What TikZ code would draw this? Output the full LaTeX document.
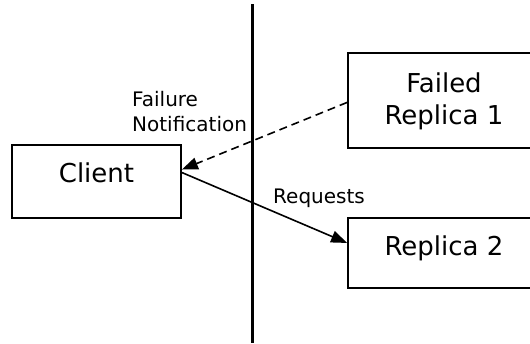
\documentclass[tikz,border=0pt]{standalone}
\usepackage{fontspec}
\setmainfont{DejaVu Sans}
\usetikzlibrary{arrows.meta,calc}

\tikzset{
  box/.style={draw, line width=1.8pt, rectangle, inner sep=0pt},
  boxtext/.style={anchor=base, font=\fontsize{26}{32}\selectfont},
  labeltext/.style={anchor=base west, font=\fontsize{20}{25}\selectfont, inner sep=0pt},
  msg/.style={line width=1.6pt, -{Triangle[length=16pt,width=12pt]}},
  divider/.style={line width=2.2pt}
}

\begin{document}
\begin{tikzpicture}[x=1pt,y=-1pt]
  \useasboundingbox (0,0) rectangle (530,343);
  \clip (0,0) rectangle (530,343);

  % dividing line
  \coordinate (divtop) at (252.5,4);
  \coordinate (divbot) at (252.5,343);
  \draw[divider] (divtop) -- (divbot);

  % boxes
  \node[box, minimum width=169pt, minimum height=73pt] (client) at (96.5,181.5) {};
  \node[box, minimum width=192pt, minimum height=95pt] (rep1) at (444,100.5) {};
  \node[box, minimum width=192pt, minimum height=70pt] (rep2) at (444,253) {};

  % box texts
  \node[boxtext] (clientlbl) at (96.5,182) {Client};
  \node[boxtext] (rep1a) at (444,92) {Failed};
  \node[boxtext] (rep1b) at (444,124) {Replica 1};
  \node[boxtext] (rep2lbl) at (444,255.5) {Replica 2};

  % attachment points
  \coordinate (cin)  at ($(client.north east)!0.34!(client.south east)$);
  \coordinate (cout) at ($(client.north east)!0.38!(client.south east)$);
  \coordinate (r1out) at ($(rep1.north west)!0.52!(rep1.south west)$);
  \coordinate (r2in)  at ($(rep2.north west)!0.36!(rep2.south west)$);

  % messages
  \draw[msg, dash pattern=on 8pt off 5pt] (r1out) -- (cin);
  \draw[msg] (cout) -- (r2in);

  % message labels
  \node[labeltext] (faillbl1) at (132,106.5) {Failure};
  \node[labeltext] (faillbl2) at (132,131) {Notification};
  \node[labeltext] (reqlbl) at (273,203) {Requests};
\end{tikzpicture}
\end{document}
